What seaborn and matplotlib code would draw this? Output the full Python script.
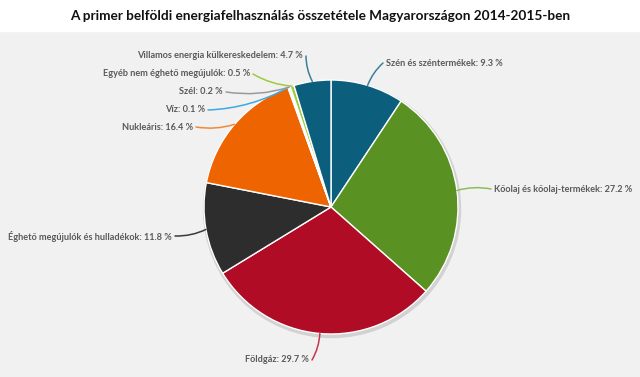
import matplotlib.pyplot as plt
import matplotlib.patches as mpatches
import matplotlib.font_manager as fm
import seaborn as sns
import numpy as np

# Adatok
kategoriak = ['Szén és széntermékek', 'Kőolaj és kőolaj-termékek', 'Földgáz',
              'Éghető megújulók és hulladékok', 'Nukleáris', 'Víz', 'Szél',
              'Egyéb nem éghető megújulók', 'Villamos energia külkereskedelem']
ertekek = [9.3, 27.2, 29.7, 11.8, 16.4, 0.1, 0.2, 0.5, 4.7]
szinek = ['#0b5f7c', '#5a9123', '#b00c25', '#2d2d2d', '#ee6401',
          '#3fa9e0', '#9a9a9a', '#9dcb3c', '#0b5f7c']
vonal_szinek = ['#3d7f99', '#8cbd5a', '#c8344c', '#3a3a3a', '#f08a3a',
                '#3fa9e0', '#9a9a9a', '#9dcb3c', '#3d7f99']

# Feliratok helye (pixel, bal felső saroktól), igazítás
felirat_pos = [(386, 63), (494, 189), (309, 360), (172, 236), (193, 127),
               (205, 110), (223, 92), (250, 74), (303, 56)]
felirat_ha = ['left', 'left', 'right', 'right', 'right', 'right', 'right', 'right', 'right']

H = 377
sns.set_style('white')
nevek = {f.name for f in fm.fontManager.ttflist}
csalad = [n for n in ['Liberation Sans Narrow', 'Lato', 'DejaVu Sans'] if n in nevek]
plt.rcParams['font.family'] = csalad

fig = plt.figure(figsize=(6.4, 3.77), dpi=100)
fig.patch.set_facecolor('#f1f1f1')
ax = fig.add_axes([0, 0, 1, 1])

# fehér fejléc sáv
ax.add_patch(mpatches.Rectangle((0, H - 31), 640, 31, color='white', zorder=0))
ax.text(320, H - 16, 'A primer belföldi energiafelhasználás összetétele Magyarországon 2014-2015-ben',
        ha='center', va='center', fontsize=9.8, fontweight='bold', family=['Lato', 'DejaVu Sans'],
        color='#111111')

cx, cy, r = 331, H - 207, 127
# árnyék
ax.add_patch(mpatches.Circle((cx + 1, cy - 2), r + 1.5, color='#d2d2d2', zorder=1))

wedges, _ = ax.pie(ertekek, colors=szinek, startangle=90, counterclock=False,
                   center=(cx, cy), radius=r, frame=True,
                   wedgeprops=dict(edgecolor='white', linewidth=1, zorder=2))
ax.set_xlim(0, 640)
ax.set_ylim(0, H)
ax.set_aspect('auto')
ax.axis('off')

for w, kat, ert, pos, ha, lc in zip(wedges, kategoriak, ertekek, felirat_pos, felirat_ha, vonal_szinek):
    mid = np.deg2rad((w.theta1 + w.theta2) / 2)
    x0 = cx + r * np.cos(mid)
    y0 = cy + r * np.sin(mid)
    dx = 6 if ha == 'left' else -6
    ax.annotate(f'{kat}: {ert} %', xy=(x0, y0), xytext=(pos[0], H - pos[1]),
                ha=ha, va='center', fontsize=6.6, fontweight='bold', color='#5a5a5a', zorder=3)
    ax.annotate('', xy=(x0, y0), xytext=(pos[0] - dx / 2, H - pos[1]),
                arrowprops=dict(arrowstyle='-', color=lc, lw=1.1,
                                connectionstyle='arc3,rad=0.12', shrinkA=0, shrinkB=0),
                zorder=3)

fig.savefig('out.png', dpi=100, facecolor=fig.get_facecolor())
